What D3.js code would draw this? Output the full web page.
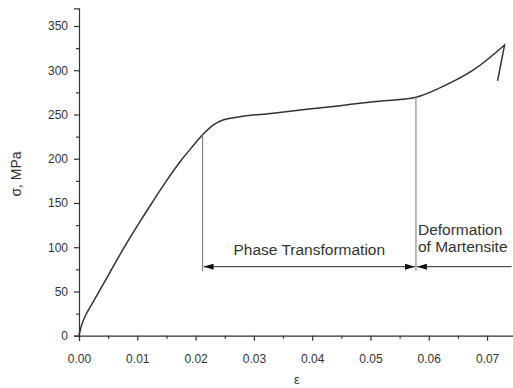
<!DOCTYPE html>
<html>
<head>
<meta charset="utf-8">
<script src="https://cdn.jsdelivr.net/npm/d3@7"></script>
<style>
  body { margin: 0; background: #fff; }
  text { font-family: "Liberation Sans", Arial, sans-serif; fill: #333; }
</style>
</head>
<body>
<div id="chart"></div>
<script>
// stress-strain curve
const strain = [0, 0.0005, 0.0012, 0.0025, 0.005, 0.0075, 0.010, 0.0125, 0.015, 0.0175, 0.0195, 0.0212, 0.023, 0.0248, 0.0276, 0.0333, 0.0391, 0.0448, 0.0505, 0.0578, 0.0619, 0.0676, 0.0730, 0.0718];
const stress = [0, 13, 24, 39, 68, 97, 124, 150, 175, 198, 214, 227, 238, 244, 247.5, 251.5, 256, 260, 264.5, 269.5, 280, 300, 328.5, 288];

const xTicks = [0, 0.01, 0.02, 0.03, 0.04, 0.05, 0.06, 0.07];
const yTicks = [0, 50, 100, 150, 200, 250, 300, 350];

// region markers
const phaseStart = 0.0212;
const martStart = 0.0578;
const rangeEnd = 0.0742;
const arrowLevel = 78;
const lineBottom = 73;

const width = 513, height = 388;

const svg = d3.select("#chart").append("svg")
  .attr("width", width)
  .attr("height", height);

const x = d3.scaleLinear().domain([0, 0.0745]).range([79, 513.3]);
const y = d3.scaleLinear().domain([0, 370]).range([335.7, 8.3]);

const data = strain.map((s, i) => ({ e: s, s: stress[i] }));

// axes
const xAxis = svg.append("g")
  .attr("transform", `translate(0,${y(0)})`)
  .call(d3.axisBottom(x).tickValues(xTicks).tickFormat(d3.format(".2f")).tickSize(5).tickPadding(14));
xAxis.append("g")
  .call(d3.axisBottom(x).tickValues(d3.range(0.005, 0.0745, 0.01)).tickFormat("").tickSize(3))
  .select(".domain").remove();

const yAxis = svg.append("g")
  .attr("transform", `translate(${x(0)},0)`)
  .call(d3.axisLeft(y).tickValues(yTicks).tickSize(5).tickPadding(6));
yAxis.append("g")
  .call(d3.axisLeft(y).tickValues(d3.range(25, 370, 50)).tickFormat("").tickSize(3))
  .select(".domain").remove();

svg.selectAll(".domain, .tick line").attr("stroke", "#333").attr("stroke-width", 1.2);
svg.selectAll(".tick text").attr("font-size", 12).style("fill", "#333");

// axis titles
svg.append("text")
  .attr("x", 297)
  .attr("y", 384)
  .attr("text-anchor", "middle")
  .attr("font-size", 13)
  .text("ε");

svg.append("text")
  .attr("transform", `translate(21,174) rotate(-90)`)
  .attr("text-anchor", "middle")
  .attr("font-size", 14)
  .text("σ, MPa");

// curve: smooth up to the peak, straight drop after it
const line = d3.line()
  .x(d => x(d.e))
  .y(d => y(d.s))
  .curve(d3.curveCatmullRom.alpha(0.5));

const last = data[data.length - 1];
svg.append("path")
  .attr("fill", "none")
  .attr("stroke", "#333")
  .attr("stroke-width", 1.5)
  .attr("stroke-linejoin", "miter")
  .attr("d", line(data.slice(0, -1)) + `L${x(last.e)},${y(last.s)}`);

// vertical guides
const interp = e => {
  for (let i = 1; i < data.length; i++) {
    if (data[i].e >= e) {
      const a = data[i - 1], b = data[i];
      return a.s + (b.s - a.s) * (e - a.e) / (b.e - a.e);
    }
  }
};
[phaseStart, martStart].forEach(e => {
  svg.append("line")
    .attr("x1", x(e)).attr("x2", x(e))
    .attr("y1", y(interp(e))).attr("y2", y(lineBottom))
    .attr("stroke", "#808080")
    .attr("stroke-width", 1.1);
});

// arrowheads
const defs = svg.append("defs");
defs.append("marker")
  .attr("id", "head")
  .attr("viewBox", "0 0 10 6")
  .attr("refX", 10).attr("refY", 3)
  .attr("markerWidth", 10).attr("markerHeight", 6)
  .attr("markerUnits", "userSpaceOnUse")
  .attr("orient", "auto-start-reverse")
  .append("path")
  .attr("d", "M0,0 L10,3 L0,6 Z")
  .attr("fill", "#111");

svg.append("line")
  .attr("x1", x(phaseStart) + 1).attr("x2", x(martStart) - 1)
  .attr("y1", y(arrowLevel)).attr("y2", y(arrowLevel))
  .attr("stroke", "#555").attr("stroke-width", 1.2)
  .attr("marker-start", "url(#head)")
  .attr("marker-end", "url(#head)");

svg.append("line")
  .attr("x1", x(martStart) + 1).attr("x2", x(rangeEnd))
  .attr("y1", y(arrowLevel)).attr("y2", y(arrowLevel))
  .attr("stroke", "#555").attr("stroke-width", 1.2)
  .attr("marker-start", "url(#head)");

// labels
svg.append("text")
  .attr("x", (x(phaseStart) + x(martStart)) / 2)
  .attr("y", 255)
  .attr("text-anchor", "middle")
  .attr("font-size", 15.5)
  .text("Phase Transformation");

svg.append("text")
  .attr("x", x(martStart) + 2)
  .attr("y", 235)
  .attr("font-size", 15.5)
  .text("Deformation");

svg.append("text")
  .attr("x", x(martStart) + 2)
  .attr("y", 252)
  .attr("font-size", 15.5)
  .text("of Martensite");
</script>
</body>
</html>
